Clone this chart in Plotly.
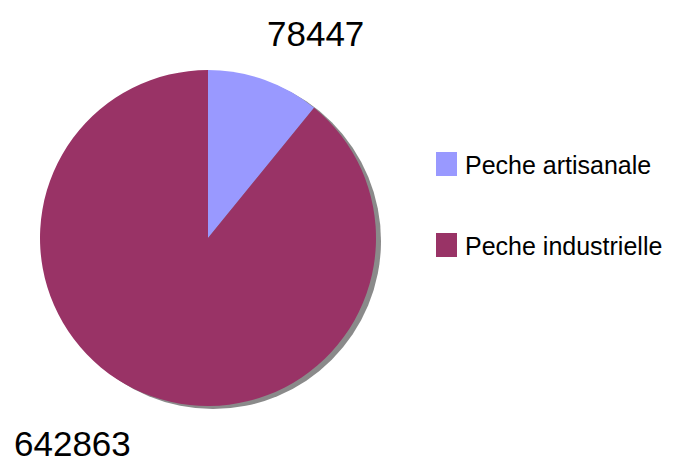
import plotly.graph_objects as go

# Data
labels = ["Peche artisanale", "Peche industrielle"]
values = [78447, 642863]
colors = ["#9999FF", "#993366"]

W, H = 673, 463
FONT = "Liberation Sans, Arial, sans-serif"

def px_x(x):
    return x / W

def px_y(y):
    return 1 - y / H

cx, cy, r = 208, 238, 168
dx, dy = 5, 3  # shadow offset

fig = go.Figure()

# shadow
fig.add_trace(go.Pie(
    values=[1], labels=["shadow"], marker=dict(colors=["#8a8a8a"], line=dict(width=0)),
    textinfo="none", hoverinfo="skip", showlegend=False, sort=False,
    domain=dict(x=[px_x(cx + dx - r), px_x(cx + dx + r)],
                y=[px_y(cy + dy + r), px_y(cy + dy - r)]),
))

fig.add_trace(go.Pie(
    labels=labels, values=values, sort=False, direction="clockwise", rotation=0,
    marker=dict(colors=colors, line=dict(width=0)),
    textinfo="none", showlegend=False,
    domain=dict(x=[px_x(cx - r), px_x(cx + r)],
                y=[px_y(cy + r), px_y(cy - r)]),
))

annotations = [
    dict(text=str(values[0]), x=px_x(315), y=px_y(34), xref="paper", yref="paper",
         showarrow=False, xanchor="center", yanchor="middle",
         font=dict(family=FONT, size=35, color="#000000")),
    dict(text=str(values[1]), x=px_x(72), y=px_y(443), xref="paper", yref="paper",
         showarrow=False, xanchor="center", yanchor="middle",
         font=dict(family=FONT, size=35, color="#000000")),
]

shapes = []
legend_y = [164, 245]
for lab, col, ly in zip(labels, colors, legend_y):
    shapes.append(dict(type="rect", xref="paper", yref="paper",
                       x0=px_x(436), x1=px_x(457), y0=px_y(ly - 12), y1=px_y(ly + 12),
                       fillcolor=col, line=dict(width=0)))
    annotations.append(dict(text=lab, x=px_x(463), y=px_y(ly + 1), xref="paper", yref="paper",
                            showarrow=False, xanchor="left", yanchor="middle",
                            font=dict(family=FONT, size=25, color="#000000")))

fig.update_layout(
    width=W, height=H,
    margin=dict(l=0, r=0, t=0, b=0),
    paper_bgcolor="white", plot_bgcolor="white",
    showlegend=False,
    annotations=annotations, shapes=shapes,
)

fig.write_html("out.html", config={"displayModeBar": False},
               post_script="document.body.style.margin='0';document.body.style.overflow='hidden';")
